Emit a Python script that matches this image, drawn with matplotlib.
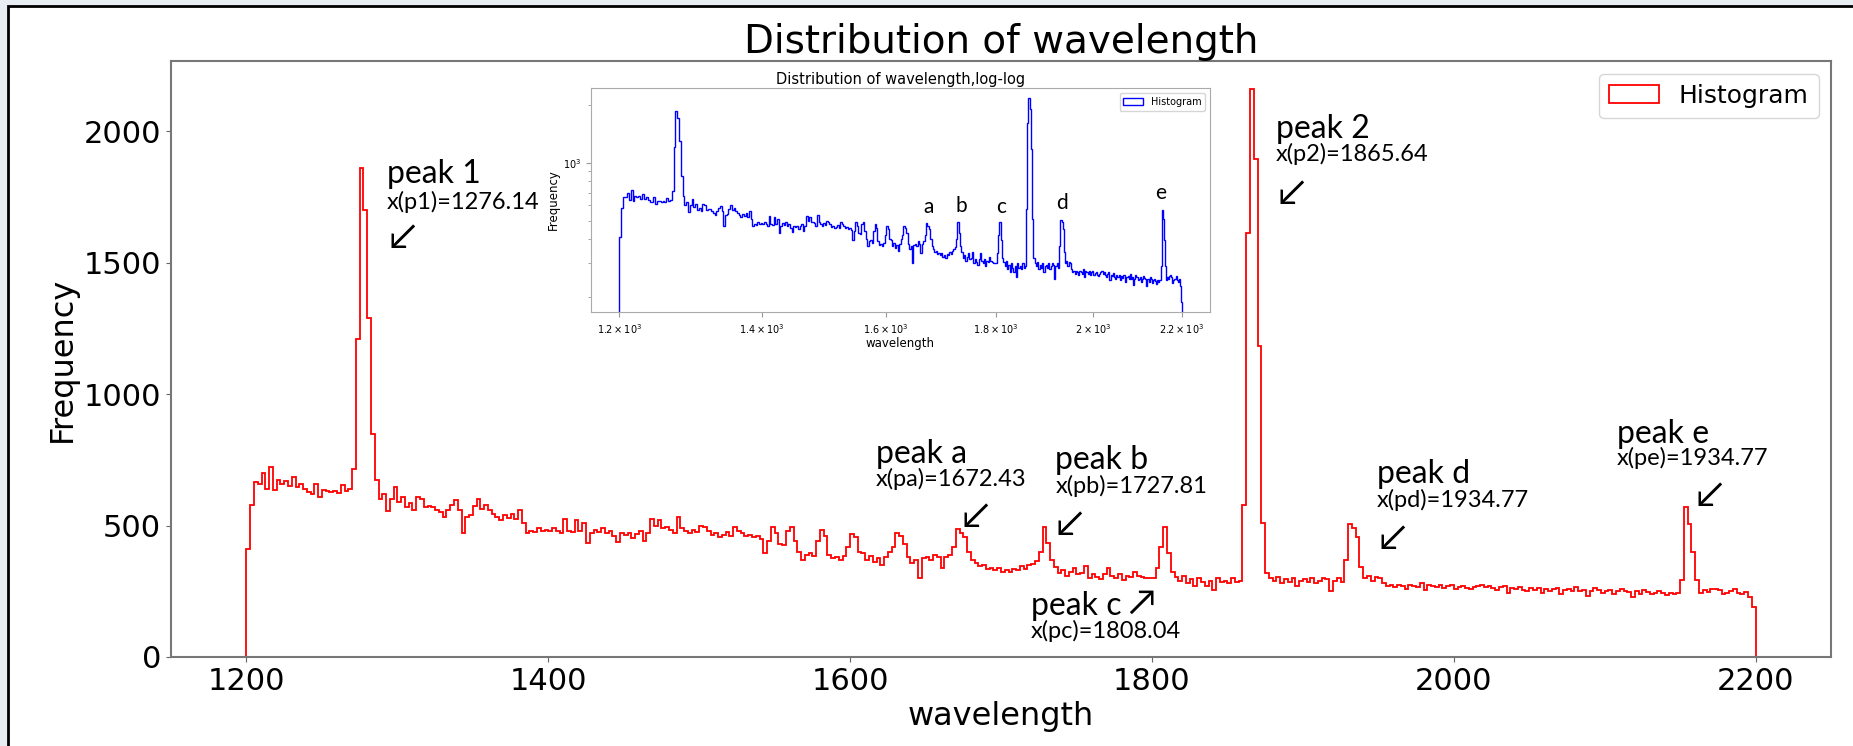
import numpy as np
import matplotlib
matplotlib.use("Agg")
import matplotlib.pyplot as plt
from matplotlib.patches import Rectangle
from matplotlib.ticker import NullLocator, NullFormatter

# counts per 2.5 nm bin from 1200 to 2200
counts = [
    410, 580, 665, 660, 700, 640, 722, 635, 672, 660,
    668, 650, 685, 648, 660, 640, 628, 622, 660, 609,
    634, 630, 628, 632, 625, 655, 630, 640, 715, 1210,
    1860, 1700, 1290, 850, 672, 600, 622, 556, 600, 647,
    590, 610, 570, 585, 560, 609, 600, 570, 575, 572,
    560, 550, 534, 560, 580, 596, 560, 472, 534, 540,
    575, 600, 565, 580, 560, 545, 534, 520, 540, 530,
    546, 525, 560, 510, 470, 480, 476, 490, 480, 485,
    478, 490, 480, 472, 527, 480, 476, 520, 478, 510,
    433, 470, 485, 476, 490, 470, 480, 460, 437, 470,
    466, 470, 452, 468, 480, 440, 470, 527, 500, 520,
    490, 495, 485, 470, 533, 490, 478, 470, 485, 475,
    500, 494, 480, 463, 470, 458, 465, 475, 460, 494,
    480, 470, 460, 465, 455, 460, 450, 395, 440, 494,
    470, 430, 425, 480, 494, 440, 400, 368, 390, 395,
    385, 440, 482, 460, 390, 375, 380, 370, 385, 420,
    467, 455, 400, 395, 370, 385, 360, 375, 350, 380,
    400, 420, 471, 460, 430, 380, 357, 370, 300, 375,
    380, 370, 390, 380, 340, 380, 390, 420, 486, 470,
    455, 400, 368, 357, 345, 350, 335, 340, 330, 338,
    325, 330, 322, 335, 330, 345, 335, 350, 355, 365,
    400, 494, 433, 370, 342, 320, 330, 310, 325, 340,
    315, 320, 345, 300, 315, 305, 295, 315, 340, 310,
    300, 315, 292, 310, 305, 325, 310, 305, 300, 300,
    300, 340, 420, 494, 395, 322, 305, 290, 310, 280,
    295, 270, 300, 285, 270, 290, 254, 300, 285, 290,
    280, 300, 285, 290, 577, 1614, 2160, 1894, 1184, 509,
    319, 300, 290, 305, 280, 295, 285, 300, 270, 290,
    295, 285, 300, 280, 290, 300, 295, 250, 290, 300,
    285, 368, 505, 490, 455, 342, 300, 310, 290, 305,
    300, 280, 270, 275, 265, 275, 270, 260, 275, 270,
    265, 280, 255, 275, 270, 265, 275, 262, 270, 275,
    260, 268, 270, 262, 258, 265, 270, 275, 265, 270,
    262, 255, 265, 270, 245, 262, 258, 268, 255, 250,
    262, 255, 262, 245, 258, 252, 260, 262, 240, 255,
    258, 250, 265, 250, 255, 232, 250, 262, 255, 245,
    250, 255, 240, 250, 258, 252, 248, 230, 250, 240,
    255, 248, 238, 245, 250, 242, 235, 245, 240, 245,
    292, 569, 508, 399, 292, 245, 255, 248, 258, 260,
    255, 238, 245, 250, 258, 245, 240, 248, 228, 190,
]
wl_lo, wl_hi = 1200, 2200

peak_names = ["peak 1", "peak 2", "peak a", "peak b", "peak c", "peak d", "peak e"]
peak_values = ["x(p1)=1276.14", "x(p2)=1865.64", "x(pa)=1672.43", "x(pb)=1727.81",
               "x(pc)=1808.04", "x(pd)=1934.77", "x(pe)=1934.77"]
peak_arrows = ["↙", "↙", "↙", "↙", "↗", "↙", "↙"]

inset_letters = ["a", "b", "c", "d", "e"]
inset_ticks = [1200, 1400, 1600, 1800, 2000, 2200]
inset_ticklabels = [r"$1.2\times10^{3}$", r"$1.4\times10^{3}$", r"$1.6\times10^{3}$",
                    r"$1.8\times10^{3}$", r"$2\times10^{3}$", r"$2.2\times10^{3}$"]

# label placement: (x, name baseline, value baseline, arrow x, arrow y)
label_pos = [
    (1293, 1803, 1705, 1294, 1598),
    (1882, 1974, 1887, 1883, 1765),
    (1617, 740, 649, 1674, 535),
    (1736, 714, 623, 1736, 505),
    (1720, 160, 72, 1784, 205),
    (1949, 664, 569, 1950, 452),
    (2108, 816, 729, 2160, 615),
]
letter_pos = [(1675, 520), (1734, 532), (1810, 520), (1934, 551), (2150, 619)]

edges = np.linspace(wl_lo, wl_hi, len(counts) + 1)
centers = (edges[:-1] + edges[1:]) / 2

W, H = 1853, 746
fig = plt.figure(figsize=(W / 100, H / 100), dpi=100)
fig.patch.set_facecolor("#e8edf4")
fig.add_artist(Rectangle((8 / W, -0.02), 1.1, 1.02 - 6 / H, transform=fig.transFigure,
                         facecolor="white", edgecolor="black", linewidth=2, zorder=-1))

ann_font = ["Lato", "DejaVu Sans"]

# main histogram
ax = fig.add_axes([171 / W, 1 - 657 / H, (1831 - 171) / W, (657 - 61) / H])
ax.hist(centers, bins=edges, weights=counts, histtype="step", color="red",
        linewidth=1.3, label="Histogram")
ax.set_xticks(range(1200, 2201, 200))
ax.set_yticks([0, 500, 1000, 1500, 2000])
ax.tick_params(labelsize=22, color="#666666")
for s in ax.spines.values():
    s.set_color("#777777")
    s.set_linewidth(1.5)
ax.set_xlabel("wavelength", fontsize=23)
ax.set_ylabel("Frequency", fontsize=23)
ax.set_title("Distribution of wavelength", fontsize=28)
ax.legend(loc="upper right", fontsize=18)

for name, val, arrow, (x, yn, yv, xa, ya) in zip(peak_names, peak_values, peak_arrows, label_pos):
    ax.text(x, yn, name, fontsize=23, family=ann_font, va="baseline", ha="left")
    ax.text(x, yv, val, fontsize=17, family=ann_font, va="baseline", ha="left")
    ax.text(xa, ya, arrow, fontsize=26, family=ann_font, va="center", ha="left")

# log-log inset
axin = fig.add_axes([591 / W, 1 - 312 / H, 619 / W, 224 / H])
axin.hist(centers, bins=edges, weights=counts, histtype="step", color="blue",
          linewidth=1.0, label="Histogram", log=True)
axin.set_xscale("log")
axin.set_ylim(168, 2440)
axin.xaxis.set_minor_locator(NullLocator())
axin.set_xticks(inset_ticks, inset_ticklabels)
axin.yaxis.set_minor_formatter(NullFormatter())
axin.tick_params(labelsize=7, color="#999999")
axin.tick_params(which="minor", color="#999999")
for s in axin.spines.values():
    s.set_color("#aaaaaa")
axin.set_title("Distribution of wavelength,log-log", fontsize=10.5, pad=3)
axin.set_xlabel("wavelength", fontsize=8.5, labelpad=1)
axin.set_ylabel("Frequency", fontsize=8.5, labelpad=2)
axin.legend(loc="upper right", fontsize=7)
for letter, (x, y) in zip(inset_letters, letter_pos):
    axin.text(x, y, letter, fontsize=15, family=ann_font, ha="center", va="bottom")

fig.savefig("out.png", dpi=100, facecolor=fig.get_facecolor())
